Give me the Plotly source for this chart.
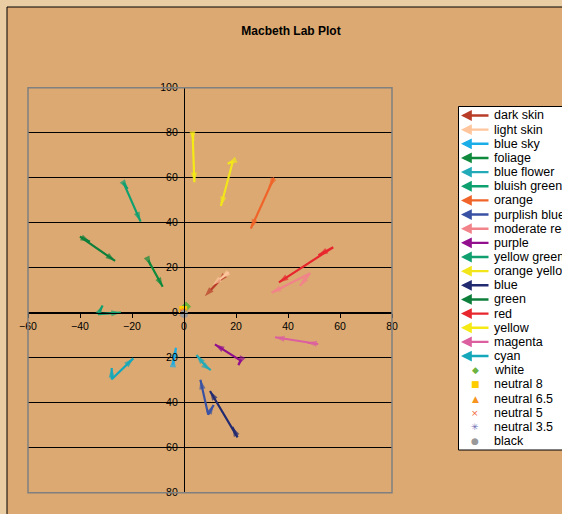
import plotly.graph_objects as go

W, H = 562, 514

# ---------------- data ----------------
names = ["dark skin", "light skin", "blue sky", "foliage", "blue flower", "bluish green",
         "orange", "purplish blue", "moderate red", "purple", "yellow green", "orange yellow",
         "blue", "green", "red", "yellow", "magenta", "cyan"]
colors = ["#B83C28", "#FFC59C", "#1AADE8", "#0F8A3C", "#22AAB8", "#0FA070",
          "#F0642A", "#3A52A3", "#F2838A", "#920F8E", "#10A070", "#F2E61A",
          "#232B70", "#0E7F3B", "#E8262D", "#F5EA14", "#DC5FA0", "#14A8BA"]
# reference point (a*, b*)
ref_a = [14.8, 17.2, -4.2, -13.7, 8.5, -33.0, 34.6, 9.3, 48.5, 21.8, -23.3, 18.8, 20.6, -40.0, 57.4, 3.3, 51.6, -27.8]
ref_b = [15.6, 18.0, -23.0, 23.2, -24.0, -0.6, 60.0, -45.3, 17.5, -21.3, 57.8, 67.3, -55.4, 33.8, 29.1, 80.0, -13.9, -29.6]
# first measurement
m1_a = [13.2, 14.2, -4.0, -12.8, 10.3, -31.3, 32.8, 11.4, 44.6, 20.9, -21.7, 16.8, 18.6, -36.2, 51.7, 3.6, 47.4, -27.8]
m1_b = [13.6, 15.3, -20.0, 21.0, -25.5, 3.2, 55.8, -41.0, 11.9, -23.3, 55.0, 66.2, -50.8, 31.5, 25.5, 76.3, -13.3, -24.6]
# second measurement
m2_a = [8.0, 11.0, -3.1, -8.2, 4.8, -24.3, 25.7, 6.3, 33.7, 11.9, -16.7, 14.2, 10.0, -26.5, 36.5, 4.0, 35.0, -19.5]
m2_b = [7.3, 12.3, -15.6, 11.5, -18.8, 0.0, 37.4, -29.8, 8.9, -14.1, 40.5, 47.4, -34.8, 23.0, 13.5, 58.0, -10.9, -20.3]

neutral_names = ["white", "neutral 8", "neutral 6.5", "neutral 5", "neutral 3.5", "black"]
neutral_a = [0.8, -0.3, -0.5, -0.4, 0.0, 0.0]
neutral_b = [2.7, 1.2, 0.5, 0.2, -0.3, -0.6]
neutral_colors = ["#6DB33F", "#FFCC00", "#F7941D", "#F26B3A", "#6B6BB0", "#999999"]
neutral_symbols = ["diamond", "square", "triangle-up", "x-thin-open", "asterisk-open", "circle"]
neutral_glyphs = ["\u25C6", "\u25A0", "\u25B2", "\u00D7", "\u2733", "\u25CF"]

x_range = [-60, 80]
y_range = [-80, 100]
tick_step = 20

# ---------------- geometry (pixels) ----------------
PL, PR, PT, PB = 28, 392, 87.7, 492.7
xd = [PL / W, PR / W]
yd = [1 - PB / H, 1 - PT / H]
def px(x):
    return x / W
def py(y):
    return 1 - y / H

FONT = "Liberation Sans, Arial, sans-serif"

fig = go.Figure()
for i in range(len(names)):
    xs = [ref_a[i], m1_a[i], ref_a[i], m2_a[i]]
    ys = [ref_b[i], m1_b[i], ref_b[i], m2_b[i]]
    fig.add_trace(go.Scatter(
        x=xs, y=ys, mode="lines+markers", name=names[i], showlegend=False,
        line=dict(color=colors[i], width=2.2),
        marker=dict(symbol="arrow", size=[0, 10, 0, 10], angleref="previous",
                    color=colors[i], line=dict(width=0)),
        hoverinfo="skip"))

for j in range(len(neutral_names)):
    fig.add_trace(go.Scatter(
        x=[neutral_a[j]], y=[neutral_b[j]], mode="markers", name=neutral_names[j], showlegend=False,
        marker=dict(symbol=neutral_symbols[j], size=7, color=neutral_colors[j],
                    line=dict(color=neutral_colors[j], width=1)),
        hoverinfo="skip"))

xaxis_pos = yd[0] + (0 - y_range[0]) / (y_range[1] - y_range[0]) * (yd[1] - yd[0])
yaxis_pos = xd[0] + (0 - x_range[0]) / (x_range[1] - x_range[0]) * (xd[1] - xd[0])

tickfont = dict(family=FONT, size=10.5, color="black")
fig.update_layout(
    width=W, height=H, autosize=False,
    margin=dict(l=0, r=0, t=0, b=0, pad=0, autoexpand=False),
    paper_bgcolor="#EACDA3", plot_bgcolor="#C0C0C0",
    showlegend=False,
    title=dict(text="<b>Macbeth Lab Plot</b>", x=291 / W, y=py(31), xref="paper", yref="paper",
               xanchor="center", yanchor="middle", font=dict(family=FONT, size=12, color="black")),
    xaxis=dict(domain=xd, range=x_range, tick0=0, dtick=tick_step, anchor="free", position=xaxis_pos,
               showline=True, linecolor="black", linewidth=1.3, ticks="outside", ticklen=4,
               tickcolor="black", showgrid=False, zeroline=False, tickfont=tickfont, fixedrange=True,
               automargin=False),
    yaxis=dict(domain=yd, range=y_range, tick0=0, dtick=tick_step, anchor="free", position=yaxis_pos,
               showline=True, linecolor="black", linewidth=1.3, ticks="outside", ticklen=4,
               tickcolor="black", showgrid=True, gridcolor="black", gridwidth=1.2, zeroline=False,
               tickfont=tickfont, fixedrange=True, automargin=False),
)

shapes = [
    # chart area
    dict(type="rect", xref="paper", yref="paper", x0=px(7), x1=px(700), y0=py(700), y1=py(7),
         fillcolor="#DBA971", line=dict(color="black", width=1), layer="below"),
    # legend box
    dict(type="rect", xref="paper", yref="paper", x0=px(458.5), x1=px(700), y0=py(450), y1=py(106.5),
         fillcolor="white", line=dict(color="black", width=1), layer="below"),
    # plot area border
    dict(type="rect", xref="paper", yref="paper", x0=xd[0], x1=xd[1], y0=yd[0], y1=yd[1],
         fillcolor="rgba(0,0,0,0)", line=dict(color="#808080", width=1.5), layer="above"),
]
fig.update_layout(shapes=shapes)

# custom legend (compact Excel-style)
annotations = []
row0, row_h = 115.5, 14.15
all_names = names + neutral_names
for i, nm in enumerate(all_names):
    yy = py(row0 + row_h * i)
    annotations.append(dict(xref="paper", yref="paper", x=px(492), y=yy, text=nm, showarrow=False,
                            xanchor="left", yanchor="middle",
                            font=dict(family=FONT, size=12.5, color="black")))
    if i < len(names):
        annotations.append(dict(xref="paper", yref="paper", x=px(461), y=yy, text="",
                                showarrow=True, ax=29, ay=0, arrowhead=2, arrowsize=0.9,
                                arrowwidth=2.4, arrowcolor=colors[i], standoff=0, startstandoff=0))
    else:
        k = i - len(names)
        annotations.append(dict(xref="paper", yref="paper", x=px(475), y=yy, text=neutral_glyphs[k],
                                showarrow=False, xanchor="center", yanchor="middle",
                                font=dict(family="DejaVu Sans", size=9, color=neutral_colors[k])))
fig.update_layout(annotations=annotations)

fig.write_html(
    "out.html",
    config={"responsive": False, "displayModeBar": False},
    post_script="document.body.style.margin='0';document.body.style.overflow='hidden';",
)
